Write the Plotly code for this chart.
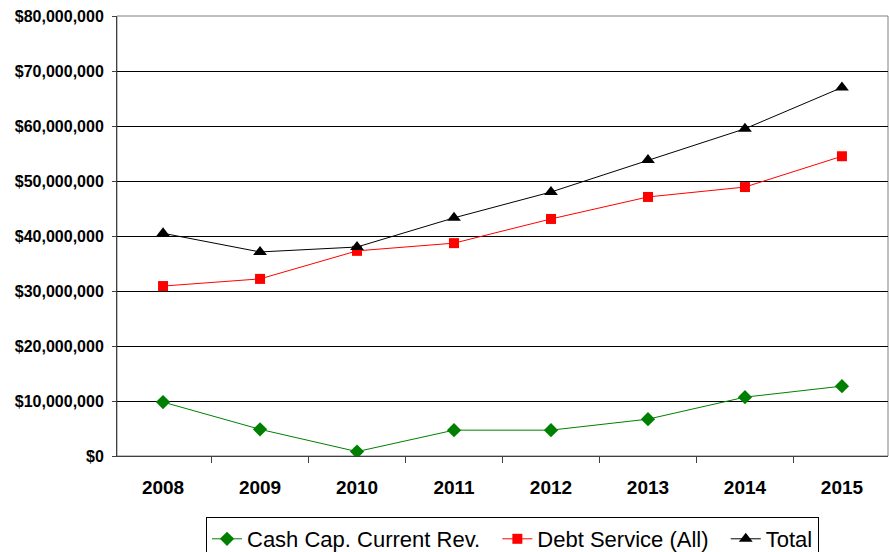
import plotly.graph_objects as go

years = ["2008", "2009", "2010", "2011", "2012", "2013", "2014", "2015"]
cash_cap = [9.8e6, 4.85e6, 0.8e6, 4.7e6, 4.7e6, 6.7e6, 10.7e6, 12.7e6]
debt_service = [30.9e6, 32.2e6, 37.3e6, 38.7e6, 43.1e6, 47.1e6, 48.9e6, 54.5e6]
total = [40.5e6, 37.1e6, 38.0e6, 43.3e6, 48.0e6, 53.8e6, 59.5e6, 67.0e6]
y_ticks = [0, 10e6, 20e6, 30e6, 40e6, 50e6, 60e6, 70e6, 80e6]
y_tick_text = ["$0", "$10,000,000", "$20,000,000", "$30,000,000", "$40,000,000",
               "$50,000,000", "$60,000,000", "$70,000,000", "$80,000,000"]
series_names = ["Cash Cap. Current Rev.", "Debt Service (All)", "Total"]

pad = "\u00a0\u00a0"
fig = go.Figure()
fig.add_trace(go.Scatter(x=years, y=cash_cap, name=series_names[0] + pad, mode="lines+markers",
                         line=dict(color="#008000", width=1),
                         marker=dict(symbol="diamond", size=11, color="#008000")))
fig.add_trace(go.Scatter(x=years, y=debt_service, name=series_names[1] + pad, mode="lines+markers",
                         line=dict(color="#FF0000", width=1),
                         marker=dict(symbol="square", size=10, color="#FF0000")))
fig.add_trace(go.Scatter(x=years, y=total, name=series_names[2], mode="lines+markers",
                         line=dict(color="#000000", width=1),
                         marker=dict(symbol="triangle-up", size=12, color="#000000")))

fig.update_layout(
    width=889, height=552,
    margin=dict(l=117, r=1, t=16, b=96),
    paper_bgcolor="white", plot_bgcolor="white",
    font=dict(family="Liberation Sans, Arial, sans-serif", color="black"),
    showlegend=True,
    legend=dict(orientation="h", xref="container", yref="container",
                x=206 / 889, xanchor="left", y=1 - 517 / 552, yanchor="top",
                bordercolor="black", borderwidth=1, font=dict(size=22),
                itemwidth=30, tracegroupgap=0),
    xaxis=dict(type="category", tickson="boundaries", ticks="outside", ticklen=6,
               tickcolor="#404040", showgrid=False, showline=True, linecolor="#404040",
               tickfont=dict(size=19), automargin=False, ticklabelstandoff=14,
               tickprefix="<b>", ticksuffix="</b>", fixedrange=True),
    yaxis=dict(range=[0, 80e6], tickvals=y_ticks, ticktext=["<b>" + t + "</b>" for t in y_tick_text],
               ticks="outside", ticklen=4, tickcolor="#404040", automargin=False,
               ticklabelstandoff=5,
               showgrid=True, gridcolor="black", gridwidth=1,
               showline=True, linecolor="#404040", linewidth=1,
               tickfont=dict(size=16), zeroline=False),
)
fig.add_shape(type="rect", xref="paper", yref="paper", x0=0, x1=1, y0=0, y1=1,
              line=dict(color="#808080", width=1), layer="below")

fig.write_html("out.html")
